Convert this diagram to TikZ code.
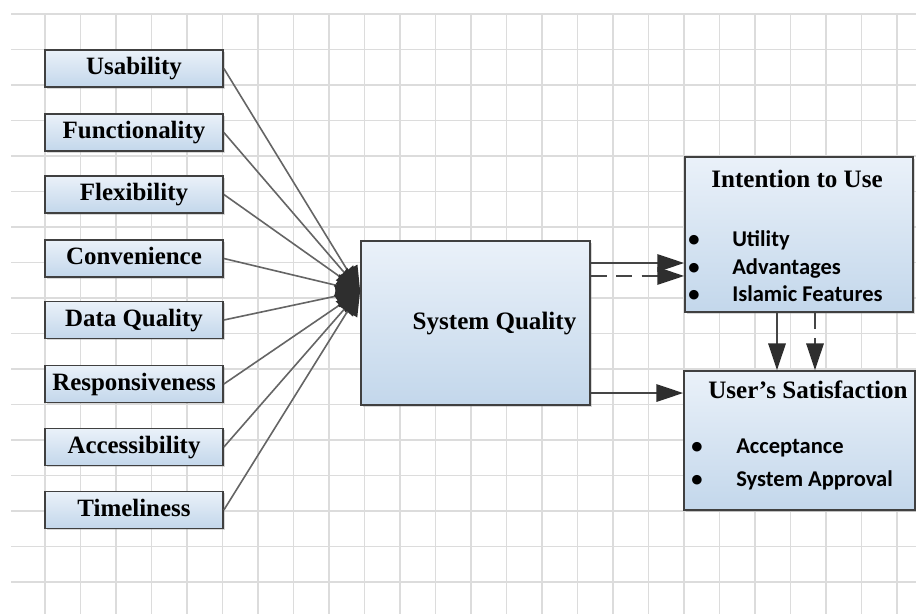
\documentclass[tikz,border=0pt]{standalone}
\usepackage{fontspec}
\setmainfont{Liberation Serif}
\newfontfamily\itemfont{Carlito}
\usetikzlibrary{arrows.meta,shadows}
\definecolor{gridc}{HTML}{DCDCDC}
\definecolor{boxtop}{HTML}{EAF1F9}
\definecolor{boxbot}{HTML}{C3D7EB}
\definecolor{edgec}{HTML}{404040}
\definecolor{linec}{HTML}{656565}
\definecolor{headc}{HTML}{2E2E2E}
\definecolor{flowc}{HTML}{454545}
\begin{document}
\begin{tikzpicture}[x=0.75pt,y=-0.75pt,
  gridline/.style={draw=gridc,line width=1pt},
  boxbase/.style={draw=edgec,line width=1.3pt,top color=boxtop,bottom color=boxbot,inner sep=0pt,
    drop shadow={shadow xshift=1.3pt,shadow yshift=-1.3pt,opacity=0.3}},
  smallbox/.style={boxbase,minimum width=133.5pt,minimum height=27.75pt,
    font=\fontsize{18.7}{21}\selectfont\bfseries,text height=12.3pt,text depth=2.6pt},
  titletext/.style={inner sep=0pt,font=\fontsize{18.8}{21}\selectfont\bfseries,text height=12.3pt,text depth=2.6pt},
  itemtext/.style={inner sep=0pt,anchor=base west,font=\itemfont\fontsize{16.9}{18}\selectfont\bfseries},
  fanarrow/.style={draw=linec,line width=1.2pt,-{Triangle[length=18pt,width=17pt,color=headc]}},
  flow/.style={draw=flowc,line width=1.5pt,-{Triangle[length=20pt,width=13pt,color=headc]}},
  dashflow/.style={flow,dash pattern=on 12pt off 7pt}
]
\useasboundingbox (0,0) rectangle (916,614);
\fill[white] (0,0) rectangle (916,614);
% grid
\foreach \i in {0,...,16} \draw[gridline] (11,14+35.5*\i) -- (916,14+35.5*\i);
\foreach \i in {0,...,24} \draw[gridline] (45+35.5*\i,14) -- (45+35.5*\i,614);

% left boxes
\node[smallbox] (u1) at (134,68.5) {Usability};
\node[smallbox] (u2) at (134,132.5) {Functionality};
\node[smallbox] (u3) at (134,194.5) {Flexibility};
\node[smallbox] (u4) at (134,258.5) {Convenience};
\node[smallbox] (u5) at (134,320) {Data Quality};
\node[smallbox] (u6) at (134,384) {Responsiveness};
\node[smallbox] (u7) at (134,447) {Accessibility};
\node[smallbox] (u8) at (134,510) {Timeliness};

% system quality
\node[boxbase,minimum width=171.75pt,minimum height=123pt] (sq) at (475.5,323) {};
\node[titletext] (sqt) at (494.5,323) {System Quality};

% intention to use
\node[boxbase,minimum width=171pt,minimum height=116.25pt] (iu) at (799,234.5) {};
\node[titletext] (iut) at (797,181) {Intention to Use};
\node[itemtext] (ib1) at (688,246.7) {•};
\node[itemtext] (ii1) at (732,246.7) {Utility};
\node[itemtext] (ib2) at (688,274) {•};
\node[itemtext] (ii2) at (732,274) {Advantages};
\node[itemtext] (ib3) at (688,301.7) {•};
\node[itemtext] (ii3) at (732,301.7) {Islamic Features};

% user's satisfaction
\node[boxbase,minimum width=173.25pt,minimum height=104.25pt] (us) at (799.5,440.5) {};
\node[titletext] (ust) at (808,392.5) {User’s Satisfaction};
\node[itemtext] (ub1) at (691,453.3) {•};
\node[itemtext] (ui1) at (736,453.3) {Acceptance};
\node[itemtext] (ub2) at (691,486.7) {•};
\node[itemtext] (ui2) at (736,486.7) {System Approval};

% fan of arrows into system quality
\coordinate (fan) at ([yshift=24pt]sq.west);
\foreach \n in {u1,u2,u3,u4,u5,u6,u7,u8} \draw[fanarrow] (\n.east) -- (fan);

% flows
\coordinate (a1) at ([yshift=-21.4pt]iu.west);
\draw[flow] (a1 -| sq.east) -- (a1);
\coordinate (a2) at ([yshift=-31.1pt]iu.west);
\draw[dashflow] (a2 -| sq.east) -- (a2);
\coordinate (a3) at ([yshift=35.6pt]us.west);
\draw[flow] (a3 -| sq.east) -- (a3);
\coordinate (a4) at ([xshift=-16.5pt]iu.south);
\draw[flow] (a4) -- (a4 |- us.north);
\coordinate (a5) at ([xshift=12pt]iu.south);
\draw[dashflow] (a5) -- (a5 |- us.north);
\end{tikzpicture}
\end{document}
